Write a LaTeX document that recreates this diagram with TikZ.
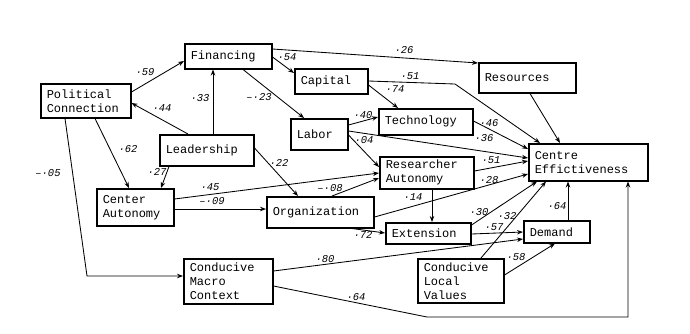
\documentclass[tikz,border=0pt]{standalone}
\usepackage{fontspec}
\setmainfont{Liberation Serif}
\newfontfamily\boxfont{Liberation Mono}
\usetikzlibrary{arrows.meta,calc}
\begin{document}
\begin{tikzpicture}[x=1pt,y=-1pt,
 bx/.style={draw,line width=1.5pt,inner xsep=6pt,inner ysep=0pt,anchor=north west,align=left,font=\boxfont\fontsize{12}{14}\selectfont},
 lb/.style={font=\boxfont\itshape\fontsize{10.5}{12}\selectfont,inner sep=0pt},
 ar/.style={draw,line width=0.85pt,-{Stealth[length=6pt,width=4.5pt]}}]
\useasboundingbox (0,0) rectangle (690,333);

% boxes
\node[bx,minimum width=90pt,minimum height=34pt,text width=78pt] (pc) at (40,83) {Political\\Connection};
\node[bx,minimum width=87pt,minimum height=25pt,text width=75pt] (fin) at (184,43) {Financing};
\node[bx,minimum width=73pt,minimum height=25pt,text width=61pt] (cap) at (294,68) {Capital};
\node[bx,minimum width=97pt,minimum height=30pt,text width=85pt] (res) at (478,62) {Resources};
\node[bx,minimum width=57pt,minimum height=31pt,text width=45pt] (lab) at (290,118) {Labor};
\node[bx,minimum width=94pt,minimum height=26pt,text width=82pt] (tech) at (378,108) {Technology};
\node[bx,minimum width=94pt,minimum height=32pt,text width=82pt] (ra) at (379,156) {Researcher\\Autonomy};
\node[bx,minimum width=119pt,minimum height=37pt,text width=107pt] (ce) at (528,143) {Centre\\Effictiveness};
\node[bx,minimum width=94pt,minimum height=31pt,text width=82pt] (lead) at (159,134) {Leadership};
\node[bx,minimum width=77pt,minimum height=37pt,text width=65pt] (ca) at (96,188) {Center\\Autonomy};
\node[bx,minimum width=107pt,minimum height=31pt,text width=95pt] (org) at (266,196) {Organization};
\node[bx,minimum width=85pt,minimum height=21pt,text width=73pt] (ext) at (385,222) {Extension};
\node[bx,minimum width=66pt,minimum height=22pt,text width=54pt] (dem) at (523,220) {Demand};
\node[bx,minimum width=89pt,minimum height=45pt,text width=77pt] (cmc) at (183,258) {Conducive\\Macro\\Context};
\node[bx,minimum width=86pt,minimum height=44pt,text width=74pt] (clv) at (417,258) {Conducive\\Local\\Values};

\coordinate (b1) at (87,276);
\coordinate (b2) at (455,84);
\coordinate (b3) at (427,317);
\coordinate (b4) at (628,317);

% connectors
\draw[ar] ($(pc.north east)+(0,9)$) -- ($(fin.north west)+(0,18)$);
\draw[ar] ($(lead.north west)+(29,0)$) -- ($(pc.north east)+(0,20)$);
\draw[ar] ($(lead.north west)+(54,0)$) -- ($(fin.south west)+(29,0)$);
\draw[ar] ($(pc.south west)+(55,0)$) -- ($(ca.north west)+(33,0)$);
\draw[ar] ($(lead.south west)+(10,0)$) -- ($(ca.north west)+(65,0)$);
\draw[ar] ($(pc.south west)+(25,0)$) -- (b1) -- ($(cmc.north west)+(0,18)$);
\draw[ar] ($(fin.north east)+(0,14)$) -- ($(cap.north west)+(0,5)$);
\draw[ar] ($(fin.north east)+(0,6)$) -- ($(res.north west)+(0,1)$);
\draw[ar] ($(fin.south west)+(59,0)$) -- ($(lab.north west)+(14,0)$);
\draw[ar] ($(cap.north east)+(0,13)$) -- (b2) -- ($(ce.north west)+(12,0)$);
\draw[ar] ($(cap.north east)+(0,17)$) -- ($(tech.north west)+(20,0)$);
\draw[ar] ($(lab.north east)+(0,7)$) -- ($(tech.north west)+(0,9)$);
\draw[ar] ($(lab.north east)+(0,13)$) -- ($(ce.north west)+(0,15)$);
\draw[ar] ($(lab.north east)+(0,17)$) -- ($(ra.north west)+(0,11)$);
\draw[ar] ($(tech.north east)+(0,13)$) -- ($(ce.north west)+(0,6)$);
\draw[ar] ($(res.south west)+(52,0)$) -- ($(ce.north west)+(32,0)$);
\draw[ar] ($(ra.north east)+(0,15)$) -- ($(ce.north west)+(0,18)$);
\draw[ar] ($(org.north east)+(0,21)$) -- ($(ce.north west)+(0,31)$);
\draw[ar] ($(ca.north east)+(0,11)$) -- ($(ra.north west)+(0,17)$);
\draw[ar] ($(ca.north east)+(0,21)$) -- ($(org.north west)+(0,13)$);
\draw[ar] ($(org.north west)+(66,0)$) -- ($(ra.north west)+(0,22)$);
\draw[ar] ($(lead.north east)+(0,14)$) -- ($(org.north west)+(32,0)$);
\draw[ar] ($(ra.south west)+(53,0)$) -- ($(ext.north west)+(47,0)$);
\draw[ar] ($(org.south west)+(86,0)$) -- ($(ext.north west)+(0,11)$);
\draw[ar] ($(ext.north east)+(0,3)$) -- ($(ce.south west)+(9,0)$);
\draw[ar] ($(clv.north west)+(64,0)$) -- ($(ce.south west)+(18,0)$);
\draw[ar] ($(ext.north east)+(0,12)$) -- ($(dem.north west)+(0,12)$);
\draw[ar] ($(cmc.north east)+(0,13)$) -- ($(dem.north west)+(0,19)$);
\draw[ar] ($(clv.north east)+(0,17)$) -- ($(dem.south west)+(32,0)$);
\draw[ar] ($(dem.north west)+(45,0)$) -- ($(ce.south west)+(40,0)$);
\draw[ar] ($(cmc.north east)+(0,28)$) -- (b3) -- (b4) -- ($(ce.south west)+(100,0)$);

% labels
\node[lb] (l1) at (145,72) {·59};
\node[lb] (l2) at (162,108) {·44};
\node[lb] (l3) at (200,98) {·33};
\node[lb] (l4) at (128,149) {·62};
\node[lb] (l5) at (157,172) {·27};
\node[lb] (l6) at (48,173) {–·05};
\node[lb] (l7) at (287,57) {·54};
\node[lb] (l8) at (404,50) {·26};
\node[lb] (l9) at (259,97) {–·23};
\node[lb] (l10) at (410,76) {·51};
\node[lb] (l11) at (395,89) {·74};
\node[lb] (l12) at (363,115) {·40};
\node[lb] (l13) at (364,140) {·04};
\node[lb] (l14) at (489,123) {·46};
\node[lb] (l15) at (484,138) {·36};
\node[lb] (l16) at (491,160) {·51};
\node[lb] (l17) at (489,180) {·28};
\node[lb] (l18) at (210,187) {·45};
\node[lb] (l19) at (212,201) {–·09};
\node[lb] (l20) at (330,188) {–·08};
\node[lb] (l21) at (279,163) {·22};
\node[lb] (l22) at (413,197) {·14};
\node[lb] (l23) at (363,235) {·72};
\node[lb] (l24) at (479,212) {·30};
\node[lb] (l25) at (507,216) {·32};
\node[lb] (l26) at (494,227) {·57};
\node[lb] (l27) at (325,259) {·80};
\node[lb] (l28) at (356,297) {·64};
\node[lb] (l29) at (516,257) {·58};
\node[lb] (l30) at (557,206) {·64};
\end{tikzpicture}
\end{document}
